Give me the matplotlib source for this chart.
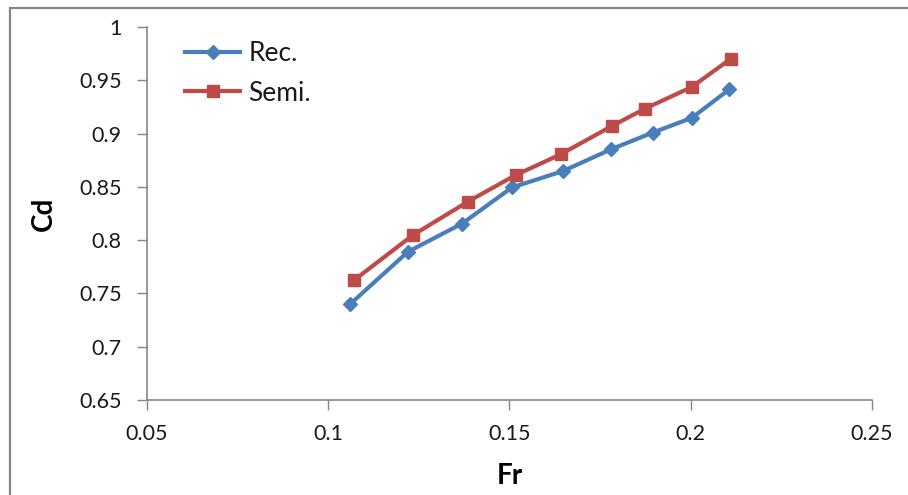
import matplotlib
matplotlib.use("Agg")
import matplotlib.pyplot as plt
from matplotlib.patches import Rectangle

fr_rec = [0.1061, 0.1220, 0.1370, 0.1507, 0.1647, 0.1781, 0.1896, 0.2003, 0.2107]
cd_rec = [0.740, 0.789, 0.8156, 0.8494, 0.8647, 0.8853, 0.901, 0.9147, 0.9416]
fr_semi = [0.1072, 0.1234, 0.1385, 0.1517, 0.1642, 0.1782, 0.1874, 0.2003, 0.2111]
cd_semi = [0.7625, 0.8047, 0.836, 0.861, 0.8806, 0.9069, 0.9234, 0.9437, 0.9703]
xticks = [0.05, 0.1, 0.15, 0.2, 0.25]
xticklabels = ["0.05", "0.1", "0.15", "0.2", "0.25"]
yticks = [0.65, 0.7, 0.75, 0.8, 0.85, 0.9, 0.95, 1.0]
yticklabels = ["0.65", "0.7", "0.75", "0.8", "0.85", "0.9", "0.95", "1"]

plt.rcParams['font.family'] = ['Lato', 'DejaVu Sans']

W, H = 908, 495
fig = plt.figure(figsize=(W / 100, H / 100), dpi=100)
ax = fig.add_axes([146.7 / W, 1 - 400 / H, (872 - 146.7) / W, (400 - 27) / H])

blue = '#4A7EBB'
red = '#BE4B48'
ax.plot(fr_rec, cd_rec, color=blue, lw=3.0, marker='D', ms=7.5, label='Rec.', zorder=3)
ax.plot(fr_semi, cd_semi, color=red, lw=3.0, marker='s', ms=8, label='Semi.', zorder=3)

ax.set_xlim(0.05, 0.25)
ax.set_ylim(0.65, 1.0)
ax.set_xticks(xticks)
ax.set_xticklabels(xticklabels)
ax.set_yticks(yticks)
ax.set_yticklabels(yticklabels)

gray = '#868686'
for s in ['top', 'right']:
    ax.spines[s].set_visible(False)
for s in ['left', 'bottom']:
    ax.spines[s].set_color(gray)
    ax.spines[s].set_linewidth(1.2)
ax.tick_params(axis='both', direction='out', length=7, width=1.0, color=gray,
               labelsize=15.5, labelcolor='#1a1a1a')
ax.tick_params(axis='y', pad=11)
ax.tick_params(axis='x', pad=10)

ax.set_xlabel('Fr', fontsize=20, fontweight='bold', labelpad=14)
ax.set_ylabel('Cd', fontsize=20, fontweight='bold', labelpad=16)

leg = ax.legend(loc='upper left', bbox_to_anchor=(185 / W, 1 - 41 / H),
                bbox_transform=fig.transFigure, frameon=False, fontsize=19,
                handlelength=2.1, handletextpad=0.3, labelspacing=0.55,
                borderpad=0, borderaxespad=0)
for t in leg.get_texts():
    t.set_color('#1a1a1a')

fig.patches.append(Rectangle((10 / W, -0.1), 1.2, 1.1 - 8 / H, transform=fig.transFigure,
                             fill=False, edgecolor=gray, lw=1.6, zorder=0))

fig.savefig('out.png', dpi=100)
